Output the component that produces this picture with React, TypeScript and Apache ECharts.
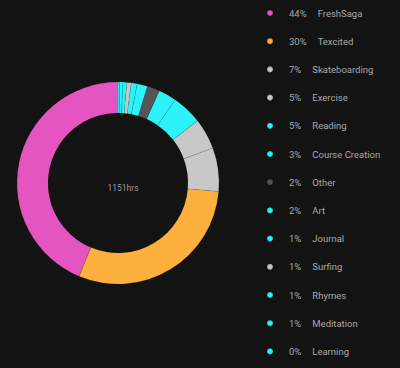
import React, { useEffect, useRef } from "react";
import * as echarts from "echarts";

const categories = [
  "FreshSaga", "Texcited", "Skateboarding", "Exercise", "Reading", "Course Creation",
  "Other", "Art", "Journal", "Surfing", "Rhymes", "Meditation", "Learning",
];
const hours = [503, 345, 80, 57, 56, 33, 23, 19, 11, 8, 7, 6, 3];
const colors = [
  "#e455c1", "#fdb03b", "#c8c8c8", "#c8c8c8", "#2df2f8", "#2df2f8",
  "#555555", "#2df2f8", "#2df2f8", "#c8c8c8", "#2df2f8", "#2df2f8", "#2df2f8",
];
const centerLabel = "1151hrs";

export default function App() {
  const ref = useRef<HTMLDivElement>(null);
  useEffect(() => {
    if (!ref.current) return;
    const chart = echarts.init(ref.current, undefined, { renderer: "svg" });
    const total = hours.reduce((a, b) => a + b, 0);
    const pct: Record<string, number> = {};
    categories.forEach((c, i) => (pct[c] = Math.round((hours[i] / total) * 100)));
    const font = "Roboto";
    chart.setOption({
      animation: false,
      backgroundColor: "#131313",
      textStyle: { fontFamily: font },
      title: {
        text: centerLabel,
        left: 118,
        top: 183,
        textAlign: "center",
        textVerticalAlign: "middle",
        textStyle: { color: "#9a9a9a", fontSize: 8.5, fontWeight: "normal", fontFamily: font },
      },
      legend: {
        orient: "vertical",
        left: 266,
        top: 6,
        padding: 0,
        height: 362,
        icon: "circle",
        itemWidth: 6,
        itemHeight: 6,
        itemGap: 14.2,
        formatter: (name: string) => `{p|${pct[name]}%}{n|${name}}`,
        textStyle: {
          color: "#a8a8a8",
          fontSize: 9.5,
          lineHeight: 14,
          fontFamily: font,
          rich: {
            p: { padding: [0, 11, 0, 11], fontSize: 9.5, color: "#a8a8a8", fontFamily: font },
            n: { fontSize: 9.5, color: "#a8a8a8", fontFamily: font },
          },
        },
      },
      series: [
        {
          type: "pie",
          center: [118, 183],
          radius: [70, 101],
          startAngle: 90,
          clockwise: false,
          label: { show: false },
          labelLine: { show: false },
          emphasis: { disabled: true },
          itemStyle: { borderColor: "rgba(0,0,0,0.15)", borderWidth: 0.5 },
          data: categories.map((c, i) => ({ name: c, value: hours[i], itemStyle: { color: colors[i] } })),
        },
      ],
    });
    return () => chart.dispose();
  }, []);
  return <div ref={ref} style={{ width: 400, height: 368, position: "absolute", left: 0, top: 0 }} />;
}
